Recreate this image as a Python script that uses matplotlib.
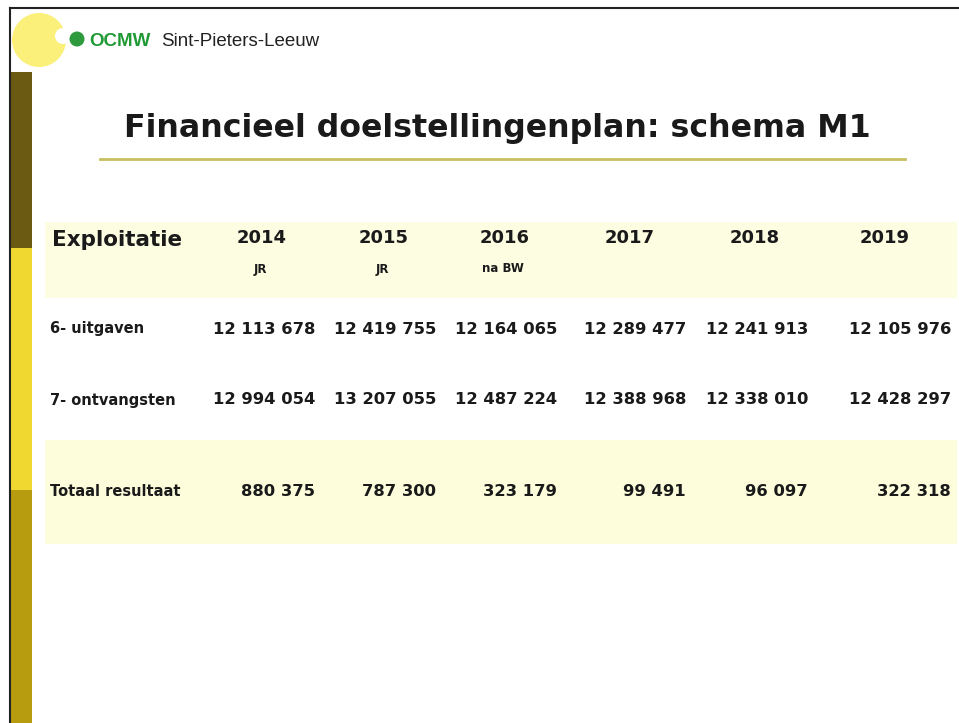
import matplotlib.pyplot as plt
from matplotlib.patches import Rectangle, Circle

# table content
years = ["2014", "2015", "2016", "2017", "2018", "2019"]
sublabels = ["JR", "JR", "na BW", "", "", ""]
row_labels = ["6- uitgaven", "7- ontvangsten", "Totaal resultaat"]
uitgaven = [12113678, 12419755, 12164065, 12289477, 12241913, 12105976]
ontvangsten = [12994054, 13207055, 12487224, 12388968, 12338010, 12428297]
totaal = [880375, 787300, 323179, 99491, 96097, 322318]


def fmt(v):
    return "{:,}".format(v).replace(",", " ")


fig = plt.figure(figsize=(9.59, 7.23), dpi=100, facecolor="white")
ax = fig.add_axes([0, 0, 1, 1])
ax.set_xlim(0, 959)
ax.set_ylim(723, 0)
ax.set_axis_off()

# slide frame
ax.plot([10, 959], [8, 8], color="#222222", lw=1.5)
ax.plot([10, 10], [8, 723], color="#222222", lw=1.5)

# left colour bar
ax.add_patch(Rectangle((11, 72), 21, 176, color="#6b5a12", lw=0))
ax.add_patch(Rectangle((11, 248), 21, 242, color="#f0d830", lw=0))
ax.add_patch(Rectangle((11, 490), 21, 233, color="#b89c10", lw=0))

# logo
ax.add_patch(Circle((39, 40), 27, color="#fbf07a", lw=0))
ax.add_patch(Circle((63, 36), 8, color="white", lw=0))
ax.add_patch(Circle((77, 39), 7.5, color="#2e9a3e", lw=0))
ax.text(89, 41, "OCMW", color="#1f9a35", fontsize=13.5, fontweight="bold",
        family="Liberation Sans", va="center", ha="left")
ax.text(161, 41, "Sint-Pieters-Leeuw", color="#222222", fontsize=13.5,
        family="Liberation Sans", va="center", ha="left")

# title
ax.text(497, 128, "Financieel doelstellingenplan: schema M1", fontsize=22.8,
        fontweight="bold", color="#1a1a1a", ha="center", va="center",
        family="DejaVu Sans")
ax.plot([100, 905], [159, 159], color="#c8c060", lw=2)

# bands
ax.add_patch(Rectangle((45, 222), 912, 76, color="#fdfde2", lw=0))
ax.add_patch(Rectangle((45, 440), 912, 104, color="#fdfddc", lw=0))

year_x = [262, 384, 505, 630, 755, 885]
right_x = [315, 436, 557, 686, 808, 951]

ax.text(52, 240, "Exploitatie", fontsize=15.5, fontweight="bold",
        color="#1a1a1a", ha="left", va="center")
for x, y, s in zip(year_x, years, sublabels):
    ax.text(x, 238, y, fontsize=13, fontweight="bold", color="#1a1a1a",
            ha="center", va="center")
    if s:
        ax.text(x - 2, 269, s, fontsize=8.5, fontweight="bold", color="#1a1a1a",
                ha="center", va="center")

rows_y = [329, 400, 491]
for lab, vals, y in zip(row_labels, [uitgaven, ontvangsten, totaal], rows_y):
    ax.text(50, y, lab, fontsize=10.5, fontweight="bold", color="#1a1a1a",
            ha="left", va="center")
    for x, v in zip(right_x, vals):
        ax.text(x, y, fmt(v), fontsize=11.8, fontweight="bold", color="#1a1a1a",
                ha="right", va="center")

fig.savefig("out.png", dpi=100, facecolor="white")
